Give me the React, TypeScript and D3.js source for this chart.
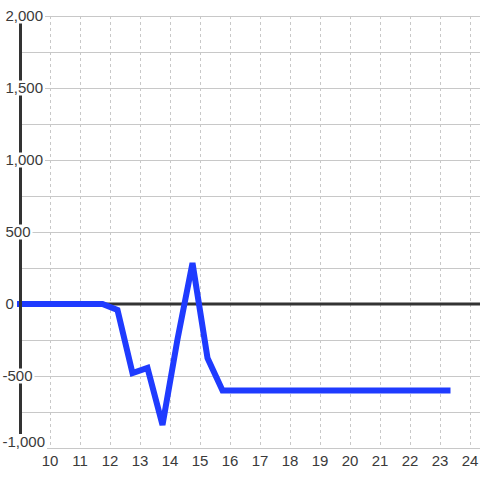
import React from "react";
import * as d3 from "d3";

const xValues = [8.75, 9.25, 9.75, 10.25, 10.75, 11.25, 11.75, 12.25, 12.75, 13.25, 13.75, 14.25, 14.75, 15.25, 15.75, 16.25, 16.75, 17.25, 17.75, 18.25, 18.75, 19.25, 19.75, 20.25, 20.75, 21.25, 21.75, 22.25, 22.75, 23.25];
const yValues = [0, 0, 0, 0, 0, 0, 0, -42, -480, -444, -840, -245, 285, -375, -600, -600, -600, -600, -600, -600, -600, -600, -600, -600, -600, -600, -600, -600, -600, -600];
const xTicks = [10, 11, 12, 13, 14, 15, 16, 17, 18, 19, 20, 21, 22, 23, 24];
const yLabelTicks = [2000, 1500, 1000, 500, 0, -500, -1000];
const yGridTicks = [2000, 1750, 1500, 1250, 1000, 750, 500, 250, -250, -500, -750, -1000];

function textWidth(s: string, size: number) {
  let w = 0;
  for (const c of s) {
    if (c === ",") w += 0.278;
    else if (c === "-") w += 0.333;
    else w += 0.556;
  }
  return w * size;
}

export default function App() {
  const W = 480, H = 480;
  const x = d3.scaleLinear().domain([10, 24]).range([50, 470]);
  const y = d3.scaleLinear().domain([-1000, 2000]).range([448, 16]);
  const data = xValues.map((v, i) => [v, yValues[i]] as [number, number]);
  const line = d3.line<[number, number]>().x(d => x(d[0])).y(d => y(d[1]));
  const fmt = d3.format(",");
  const axisX = 20.5;
  const textColor = "#3a3a3a";
  const font = "'Liberation Sans', Arial, sans-serif";
  const fs = 15;
  return (
    <svg width={W} height={H} style={{ position: "absolute", left: 0, top: 0, background: "#fff" }}>
      <defs>
        <clipPath id="plotclip">
          <rect x={17} y={0} width={W - 17} height={H} />
        </clipPath>
      </defs>
      {yGridTicks.map(t => (
        <line key={"hg" + t} x1={axisX} x2={W} y1={y(t) + 0.5} y2={y(t) + 0.5} stroke="#c8c8c8" strokeWidth={1} />
      ))}
      {xTicks.map(t => (
        <line key={"vg" + t} x1={x(t) + 0.5} x2={x(t) + 0.5} y1={y(2000)} y2={y(-1000) - 2} stroke="#c8c8c8" strokeWidth={1} strokeDasharray="3,3" />
      ))}
      <line x1={axisX} x2={W} y1={y(0)} y2={y(0)} stroke="#333" strokeWidth={3} />
      <path d={line(data) || ""} fill="none" stroke="#1f3bff" strokeWidth={6} strokeLinejoin="miter" strokeLinecap="square" clipPath="url(#plotclip)" />
      <line x1={axisX} x2={axisX} y1={y(2000)} y2={y(-1000)} stroke="#333" strokeWidth={3} />
      {yLabelTicks.map(t => {
        const yy = Math.min(y(t), 441.5);
        const label = fmt(t).replace("−", "-");
        const x0 = t < 0 ? 2.5 : 5.5;
        const w = textWidth(label, fs);
        return (
          <g key={"yl" + t}>
            <rect x={x0 - 1.5} y={yy - 7.5} width={w + 3.5} height={15} fill="#fff" />
            <text x={x0} y={yy} dy="0.35em" textAnchor="start" fontFamily={font} fontSize={fs} fill={textColor}>{label}</text>
          </g>
        );
      })}
      {xTicks.map(t => (
        <text key={"xl" + t} x={x(t)} y={461} dy="0.35em" textAnchor="middle" fontFamily={font} fontSize={fs} fill={textColor}>{t}</text>
      ))}
    </svg>
  );
}
